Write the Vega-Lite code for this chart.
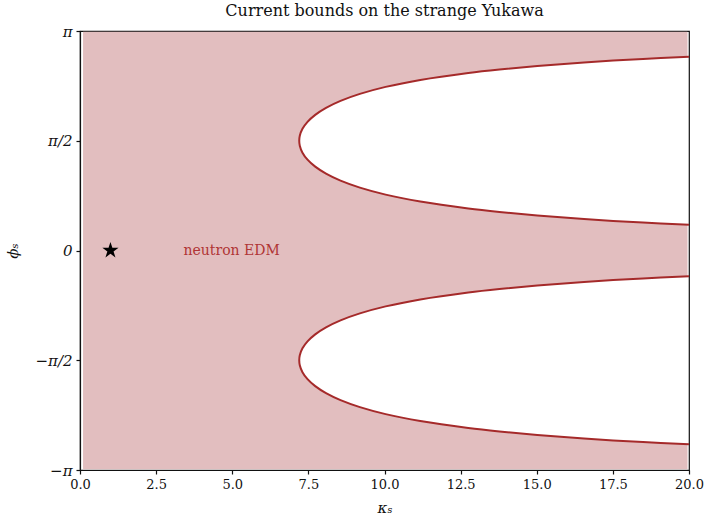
{
  "$schema": "https://vega.github.io/schema/vega-lite/v6.json",
  "width": 609,
  "height": 439,
  "autosize": {"type": "none"},
  "padding": {"left": 80, "top": 31, "right": 18, "bottom": 45},
  "title": {"text": "Current bounds on the strange Yukawa", "font": "DejaVu Serif", "fontSize": 16, "fontWeight": "normal", "color": "#111111", "offset": 5},
  "config": {
    "view": {"stroke": "#111111", "strokeWidth": 1.2},
    "axis": {"labelFont": "DejaVu Serif", "labelFontSize": 13, "labelColor": "#111111", "labelFlush": false, "titleFont": "DejaVu Serif", "titleFontSize": 15, "titleFontWeight": "normal", "titleFontStyle": "italic", "titleColor": "#111111", "domainColor": "#111111", "domainWidth": 1.2, "tickColor": "#111111", "tickSize": 4, "tickWidth": 1.2, "labelPadding": 4, "grid": false}
  },
  "datasets": {
    "region": [
      {"phi": -3.13, "kmax": 19.95},
      {"phi": -2.7733, "kmax": 19.95},
      {"phi": -2.7416, "kmax": 18.489},
      {"phi": -2.6916, "kmax": 16.553},
      {"phi": -2.6416, "kmax": 15.018},
      {"phi": -2.5916, "kmax": 13.775},
      {"phi": -2.5416, "kmax": 12.752},
      {"phi": -2.4416, "kmax": 11.176},
      {"phi": -2.3416, "kmax": 10.037},
      {"phi": -2.2416, "kmax": 9.192},
      {"phi": -2.1416, "kmax": 8.556},
      {"phi": -2.0416, "kmax": 8.079},
      {"phi": -1.9416, "kmax": 7.725},
      {"phi": -1.8416, "kmax": 7.472},
      {"phi": -1.7416, "kmax": 7.306},
      {"phi": -1.6416, "kmax": 7.218},
      {"phi": -1.5708, "kmax": 7.2},
      {"phi": -1.5, "kmax": 7.218},
      {"phi": -1.4, "kmax": 7.306},
      {"phi": -1.3, "kmax": 7.472},
      {"phi": -1.2, "kmax": 7.725},
      {"phi": -1.1, "kmax": 8.079},
      {"phi": -1.0, "kmax": 8.556},
      {"phi": -0.9, "kmax": 9.192},
      {"phi": -0.8, "kmax": 10.037},
      {"phi": -0.7, "kmax": 11.176},
      {"phi": -0.6, "kmax": 12.752},
      {"phi": -0.55, "kmax": 13.775},
      {"phi": -0.5, "kmax": 15.018},
      {"phi": -0.45, "kmax": 16.553},
      {"phi": -0.4, "kmax": 18.489},
      {"phi": -0.3683, "kmax": 19.95},
      {"phi": 0.3683, "kmax": 19.95},
      {"phi": 0.4, "kmax": 18.489},
      {"phi": 0.45, "kmax": 16.553},
      {"phi": 0.5, "kmax": 15.018},
      {"phi": 0.55, "kmax": 13.775},
      {"phi": 0.6, "kmax": 12.752},
      {"phi": 0.7, "kmax": 11.176},
      {"phi": 0.8, "kmax": 10.037},
      {"phi": 0.9, "kmax": 9.192},
      {"phi": 1.0, "kmax": 8.556},
      {"phi": 1.1, "kmax": 8.079},
      {"phi": 1.2, "kmax": 7.725},
      {"phi": 1.3, "kmax": 7.472},
      {"phi": 1.4, "kmax": 7.306},
      {"phi": 1.5, "kmax": 7.218},
      {"phi": 1.5708, "kmax": 7.2},
      {"phi": 1.6416, "kmax": 7.218},
      {"phi": 1.7416, "kmax": 7.306},
      {"phi": 1.8416, "kmax": 7.472},
      {"phi": 1.9416, "kmax": 7.725},
      {"phi": 2.0416, "kmax": 8.079},
      {"phi": 2.1416, "kmax": 8.556},
      {"phi": 2.2416, "kmax": 9.192},
      {"phi": 2.3416, "kmax": 10.037},
      {"phi": 2.4416, "kmax": 11.176},
      {"phi": 2.5416, "kmax": 12.752},
      {"phi": 2.5916, "kmax": 13.775},
      {"phi": 2.6416, "kmax": 15.018},
      {"phi": 2.6916, "kmax": 16.553},
      {"phi": 2.7416, "kmax": 18.489},
      {"phi": 2.7733, "kmax": 19.95},
      {"phi": 3.13, "kmax": 19.95}
    ],
    "curves": [
      {"branch": "upper", "order": 1, "phi": 0.3683, "k": 20.0},
      {"branch": "upper", "order": 2, "phi": 0.4, "k": 18.489},
      {"branch": "upper", "order": 3, "phi": 0.45, "k": 16.553},
      {"branch": "upper", "order": 4, "phi": 0.5, "k": 15.018},
      {"branch": "upper", "order": 5, "phi": 0.55, "k": 13.775},
      {"branch": "upper", "order": 6, "phi": 0.6, "k": 12.752},
      {"branch": "upper", "order": 7, "phi": 0.7, "k": 11.176},
      {"branch": "upper", "order": 8, "phi": 0.8, "k": 10.037},
      {"branch": "upper", "order": 9, "phi": 0.9, "k": 9.192},
      {"branch": "upper", "order": 10, "phi": 1.0, "k": 8.556},
      {"branch": "upper", "order": 11, "phi": 1.1, "k": 8.079},
      {"branch": "upper", "order": 12, "phi": 1.2, "k": 7.725},
      {"branch": "upper", "order": 13, "phi": 1.3, "k": 7.472},
      {"branch": "upper", "order": 14, "phi": 1.4, "k": 7.306},
      {"branch": "upper", "order": 15, "phi": 1.5, "k": 7.218},
      {"branch": "upper", "order": 16, "phi": 1.5708, "k": 7.2},
      {"branch": "upper", "order": 17, "phi": 1.6416, "k": 7.218},
      {"branch": "upper", "order": 18, "phi": 1.7416, "k": 7.306},
      {"branch": "upper", "order": 19, "phi": 1.8416, "k": 7.472},
      {"branch": "upper", "order": 20, "phi": 1.9416, "k": 7.725},
      {"branch": "upper", "order": 21, "phi": 2.0416, "k": 8.079},
      {"branch": "upper", "order": 22, "phi": 2.1416, "k": 8.556},
      {"branch": "upper", "order": 23, "phi": 2.2416, "k": 9.192},
      {"branch": "upper", "order": 24, "phi": 2.3416, "k": 10.037},
      {"branch": "upper", "order": 25, "phi": 2.4416, "k": 11.176},
      {"branch": "upper", "order": 26, "phi": 2.5416, "k": 12.752},
      {"branch": "upper", "order": 27, "phi": 2.5916, "k": 13.775},
      {"branch": "upper", "order": 28, "phi": 2.6416, "k": 15.018},
      {"branch": "upper", "order": 29, "phi": 2.6916, "k": 16.553},
      {"branch": "upper", "order": 30, "phi": 2.7416, "k": 18.489},
      {"branch": "upper", "order": 31, "phi": 2.7733, "k": 20.0},
      {"branch": "lower", "order": 1, "phi": -0.3683, "k": 20.0},
      {"branch": "lower", "order": 2, "phi": -0.4, "k": 18.489},
      {"branch": "lower", "order": 3, "phi": -0.45, "k": 16.553},
      {"branch": "lower", "order": 4, "phi": -0.5, "k": 15.018},
      {"branch": "lower", "order": 5, "phi": -0.55, "k": 13.775},
      {"branch": "lower", "order": 6, "phi": -0.6, "k": 12.752},
      {"branch": "lower", "order": 7, "phi": -0.7, "k": 11.176},
      {"branch": "lower", "order": 8, "phi": -0.8, "k": 10.037},
      {"branch": "lower", "order": 9, "phi": -0.9, "k": 9.192},
      {"branch": "lower", "order": 10, "phi": -1.0, "k": 8.556},
      {"branch": "lower", "order": 11, "phi": -1.1, "k": 8.079},
      {"branch": "lower", "order": 12, "phi": -1.2, "k": 7.725},
      {"branch": "lower", "order": 13, "phi": -1.3, "k": 7.472},
      {"branch": "lower", "order": 14, "phi": -1.4, "k": 7.306},
      {"branch": "lower", "order": 15, "phi": -1.5, "k": 7.218},
      {"branch": "lower", "order": 16, "phi": -1.5708, "k": 7.2},
      {"branch": "lower", "order": 17, "phi": -1.6416, "k": 7.218},
      {"branch": "lower", "order": 18, "phi": -1.7416, "k": 7.306},
      {"branch": "lower", "order": 19, "phi": -1.8416, "k": 7.472},
      {"branch": "lower", "order": 20, "phi": -1.9416, "k": 7.725},
      {"branch": "lower", "order": 21, "phi": -2.0416, "k": 8.079},
      {"branch": "lower", "order": 22, "phi": -2.1416, "k": 8.556},
      {"branch": "lower", "order": 23, "phi": -2.2416, "k": 9.192},
      {"branch": "lower", "order": 24, "phi": -2.3416, "k": 10.037},
      {"branch": "lower", "order": 25, "phi": -2.4416, "k": 11.176},
      {"branch": "lower", "order": 26, "phi": -2.5416, "k": 12.752},
      {"branch": "lower", "order": 27, "phi": -2.5916, "k": 13.775},
      {"branch": "lower", "order": 28, "phi": -2.6416, "k": 15.018},
      {"branch": "lower", "order": 29, "phi": -2.6916, "k": 16.553},
      {"branch": "lower", "order": 30, "phi": -2.7416, "k": 18.489},
      {"branch": "lower", "order": 31, "phi": -2.7733, "k": 20.0}
    ],
    "point": [{"k": 1, "phi": 0}],
    "label": [{"k": 3.4, "phi": 0, "text": "neutron EDM"}]
  },
  "layer": [
    {
      "data": {"name": "region"},
      "mark": {"type": "area", "orient": "horizontal", "color": "#e2bebf", "interpolate": "monotone"},
      "encoding": {
        "y": {"field": "phi", "type": "quantitative", "scale": {"domain": [-3.14159265, 3.14159265], "nice": false, "zero": false},
              "axis": {"values": [-3.14159265, -1.5707963, 0, 1.5707963, 3.14159265], "labelExpr": "datum.value > 3 ? 'π' : datum.value > 1 ? 'π/2' : datum.value > -1 ? '0' : datum.value > -3 ? '−π/2' : '−π'", "labelFontStyle": "italic", "labelFontSize": 15, "title": "ϕₛ", "titlePadding": 14}},
        "x": {"field": "kmax", "type": "quantitative", "scale": {"domain": [0, 20], "nice": false},
              "axis": {"values": [0, 2.5, 5, 7.5, 10, 12.5, 15, 17.5, 20], "format": ".1f", "title": "κₛ", "titlePadding": 9}},
        "x2": {"datum": 0.1}
      }
    },
    {
      "data": {"name": "curves"},
      "mark": {"type": "line", "color": "#a52a2a", "strokeWidth": 2, "interpolate": "catmull-rom"},
      "encoding": {
        "x": {"field": "k", "type": "quantitative"},
        "y": {"field": "phi", "type": "quantitative"},
        "detail": {"field": "branch"},
        "order": {"field": "order", "type": "quantitative"}
      }
    },
    {
      "data": {"name": "point"},
      "mark": {"type": "point", "shape": "M0,-1L0.2245,-0.309L0.9511,-0.309L0.3633,0.118L0.5878,0.809L0,0.382L-0.5878,0.809L-0.3633,0.118L-0.9511,-0.309L-0.2245,-0.309Z", "filled": true, "color": "black", "size": 290, "opacity": 1},
      "encoding": {
        "x": {"field": "k", "type": "quantitative"},
        "y": {"field": "phi", "type": "quantitative"}
      }
    },
    {
      "data": {"name": "label"},
      "mark": {"type": "text", "align": "left", "baseline": "middle", "font": "DejaVu Serif", "fontSize": 14, "color": "#b03535"},
      "encoding": {
        "x": {"field": "k", "type": "quantitative"},
        "y": {"field": "phi", "type": "quantitative"},
        "text": {"field": "text"}
      }
    }
  ]
}
